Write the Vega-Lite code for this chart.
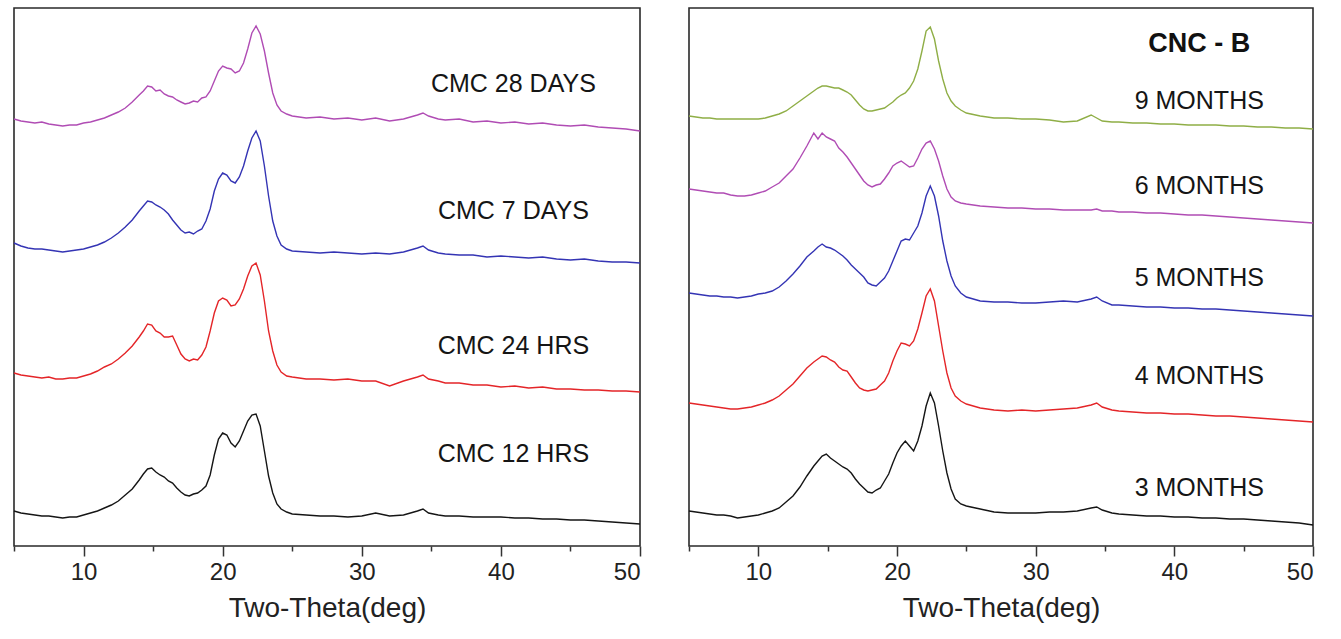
{
"$schema": "https://vega.github.io/schema/vega-lite/v6.json",
"background": "white",
"padding": {"left": 10, "top": 7, "right": 10, "bottom": 0},
"bounds": "flush",
"spacing": 49,
"resolve": {"scale": {"color": "independent"}},
"config": {
  "view": {"stroke": "#2a2a2a", "strokeWidth": 1.6},
  "font": "Liberation Sans",
  "axis": {"grid": false, "domain": false, "labelFont": "Liberation Sans", "labelFontSize": 24, "labelColor": "#222", "titleFont": "Liberation Sans", "titleFontSize": 28, "titleFontWeight": "normal", "titleColor": "#222", "tickColor": "#333", "tickWidth": 1.5, "labelPadding": 4, "titlePadding": 10}
},
"datasets": {
"left": [
{"s":"a","x":5,"y":432},{"s":"a","x":5.5,"y":430},{"s":"a","x":6,"y":429},{"s":"a","x":6.5,"y":428},{"s":"a","x":7,"y":429},{"s":"a","x":7.5,"y":427},{"s":"a","x":8,"y":426},{"s":"a","x":8.5,"y":425},{"s":"a","x":9,"y":426},{"s":"a","x":9.5,"y":426},{"s":"a","x":10,"y":428},{"s":"a","x":10.5,"y":429},{"s":"a","x":11,"y":431},{"s":"a","x":11.5,"y":433},{"s":"a","x":12,"y":436},{"s":"a","x":12.5,"y":439},{"s":"a","x":13,"y":443},{"s":"a","x":13.5,"y":449},{"s":"a","x":14,"y":456},
{"s":"a","x":14.3,"y":460},{"s":"a","x":14.6,"y":465},{"s":"a","x":14.9,"y":464},{"s":"a","x":15.2,"y":460},{"s":"a","x":15.5,"y":461},{"s":"a","x":15.8,"y":457},{"s":"a","x":16.1,"y":455},{"s":"a","x":16.4,"y":454},{"s":"a","x":16.7,"y":451},{"s":"a","x":17,"y":449},{"s":"a","x":17.3,"y":447},{"s":"a","x":17.6,"y":448},{"s":"a","x":17.9,"y":450},{"s":"a","x":18.2,"y":449},{"s":"a","x":18.5,"y":453},{"s":"a","x":18.8,"y":454},{"s":"a","x":19.1,"y":460},{"s":"a","x":19.4,"y":470},{"s":"a","x":19.7,"y":480},{"s":"a","x":20,"y":485},{"s":"a","x":20.3,"y":483},{"s":"a","x":20.6,"y":482},{"s":"a","x":20.9,"y":478},{"s":"a","x":21.2,"y":480},{"s":"a","x":21.5,"y":488},{"s":"a","x":21.8,"y":502},{"s":"a","x":22.1,"y":518},{"s":"a","x":22.4,"y":525},{"s":"a","x":22.7,"y":517},{"s":"a","x":23,"y":500},{"s":"a","x":23.3,"y":478},{"s":"a","x":23.6,"y":458},{"s":"a","x":23.9,"y":446},
{"s":"a","x":24.2,"y":440},{"s":"a","x":24.6,"y":437},{"s":"a","x":25,"y":435},{"s":"a","x":26,"y":433},{"s":"a","x":27,"y":434},{"s":"a","x":28,"y":432},{"s":"a","x":29,"y":433},{"s":"a","x":30,"y":431},{"s":"a","x":31,"y":433},{"s":"a","x":32,"y":430},{"s":"a","x":33,"y":432},{"s":"a","x":34,"y":436},{"s":"a","x":34.4,"y":438},{"s":"a","x":34.8,"y":435},{"s":"a","x":35.5,"y":432},{"s":"a","x":36,"y":431},{"s":"a","x":37,"y":432},{"s":"a","x":38,"y":429},{"s":"a","x":39,"y":430},{"s":"a","x":40,"y":428},{"s":"a","x":41,"y":429},{"s":"a","x":42,"y":427},{"s":"a","x":43,"y":428},{"s":"a","x":44,"y":426},{"s":"a","x":45,"y":425},{"s":"a","x":46,"y":426},{"s":"a","x":47,"y":424},{"s":"a","x":48,"y":423},{"s":"a","x":49,"y":422},{"s":"a","x":50,"y":420},

{"s":"b","x":5,"y":308},{"s":"b","x":5.5,"y":305},{"s":"b","x":6,"y":303},{"s":"b","x":6.5,"y":302},{"s":"b","x":7,"y":302},{"s":"b","x":7.5,"y":301},{"s":"b","x":8,"y":300},{"s":"b","x":8.5,"y":299},{"s":"b","x":9,"y":300},{"s":"b","x":9.5,"y":301},{"s":"b","x":10,"y":302},{"s":"b","x":10.5,"y":304},{"s":"b","x":11,"y":306},{"s":"b","x":11.5,"y":309},{"s":"b","x":12,"y":313},{"s":"b","x":12.5,"y":318},{"s":"b","x":13,"y":324},{"s":"b","x":13.5,"y":331},{"s":"b","x":14,"y":340},
{"s":"b","x":14.3,"y":345},{"s":"b","x":14.6,"y":350},{"s":"b","x":14.9,"y":349},{"s":"b","x":15.2,"y":346},{"s":"b","x":15.5,"y":344},{"s":"b","x":15.8,"y":341},{"s":"b","x":16.1,"y":337},{"s":"b","x":16.4,"y":331},{"s":"b","x":16.7,"y":326},{"s":"b","x":17,"y":321},{"s":"b","x":17.3,"y":318},{"s":"b","x":17.6,"y":319},{"s":"b","x":17.9,"y":317},{"s":"b","x":18.2,"y":320},{"s":"b","x":18.5,"y":322},{"s":"b","x":18.8,"y":330},{"s":"b","x":19.1,"y":342},{"s":"b","x":19.4,"y":360},{"s":"b","x":19.7,"y":372},{"s":"b","x":20,"y":378},{"s":"b","x":20.3,"y":376},{"s":"b","x":20.6,"y":370},{"s":"b","x":20.9,"y":368},{"s":"b","x":21.2,"y":374},{"s":"b","x":21.5,"y":385},{"s":"b","x":21.8,"y":400},{"s":"b","x":22.1,"y":413},{"s":"b","x":22.4,"y":420},{"s":"b","x":22.7,"y":410},{"s":"b","x":23,"y":385},{"s":"b","x":23.3,"y":355},{"s":"b","x":23.6,"y":330},{"s":"b","x":23.9,"y":315},
{"s":"b","x":24.2,"y":306},{"s":"b","x":24.6,"y":302},{"s":"b","x":25,"y":300},{"s":"b","x":26,"y":299},{"s":"b","x":27,"y":298},{"s":"b","x":28,"y":299},{"s":"b","x":29,"y":298},{"s":"b","x":30,"y":297},{"s":"b","x":31,"y":298},{"s":"b","x":32,"y":297},{"s":"b","x":33,"y":299},{"s":"b","x":34,"y":303},{"s":"b","x":34.4,"y":305},{"s":"b","x":34.8,"y":301},{"s":"b","x":35.5,"y":298},{"s":"b","x":36,"y":297},{"s":"b","x":37,"y":296},{"s":"b","x":38,"y":296},{"s":"b","x":39,"y":294},{"s":"b","x":40,"y":295},{"s":"b","x":41,"y":294},{"s":"b","x":42,"y":293},{"s":"b","x":43,"y":294},{"s":"b","x":44,"y":292},{"s":"b","x":45,"y":291},{"s":"b","x":46,"y":292},{"s":"b","x":47,"y":290},{"s":"b","x":48,"y":289},{"s":"b","x":49,"y":289},{"s":"b","x":50,"y":288},

{"s":"c","x":5,"y":178},{"s":"c","x":5.5,"y":176},{"s":"c","x":6,"y":175},{"s":"c","x":6.5,"y":174},{"s":"c","x":7,"y":173},{"s":"c","x":7.5,"y":174},{"s":"c","x":8,"y":172},{"s":"c","x":8.5,"y":172},{"s":"c","x":9,"y":173},{"s":"c","x":9.5,"y":173},{"s":"c","x":10,"y":175},{"s":"c","x":10.5,"y":177},{"s":"c","x":11,"y":180},{"s":"c","x":11.5,"y":184},{"s":"c","x":12,"y":187},{"s":"c","x":12.5,"y":192},{"s":"c","x":13,"y":198},{"s":"c","x":13.5,"y":205},{"s":"c","x":14,"y":214},
{"s":"c","x":14.3,"y":220},{"s":"c","x":14.6,"y":227},{"s":"c","x":14.9,"y":226},{"s":"c","x":15.2,"y":220},{"s":"c","x":15.5,"y":218},{"s":"c","x":15.8,"y":214},{"s":"c","x":16.1,"y":214},{"s":"c","x":16.4,"y":215},{"s":"c","x":16.7,"y":206},{"s":"c","x":17,"y":197},{"s":"c","x":17.3,"y":192},{"s":"c","x":17.6,"y":190},{"s":"c","x":17.9,"y":192},{"s":"c","x":18.2,"y":191},{"s":"c","x":18.5,"y":196},{"s":"c","x":18.8,"y":204},{"s":"c","x":19.1,"y":220},{"s":"c","x":19.4,"y":238},{"s":"c","x":19.7,"y":250},{"s":"c","x":20,"y":253},{"s":"c","x":20.3,"y":251},{"s":"c","x":20.6,"y":245},{"s":"c","x":20.9,"y":246},{"s":"c","x":21.2,"y":252},{"s":"c","x":21.5,"y":262},{"s":"c","x":21.8,"y":275},{"s":"c","x":22.1,"y":285},{"s":"c","x":22.4,"y":288},{"s":"c","x":22.7,"y":276},{"s":"c","x":23,"y":250},{"s":"c","x":23.3,"y":220},{"s":"c","x":23.6,"y":200},{"s":"c","x":23.9,"y":186},
{"s":"c","x":24.2,"y":179},{"s":"c","x":24.6,"y":175},{"s":"c","x":25,"y":174},{"s":"c","x":26,"y":172},{"s":"c","x":27,"y":172},{"s":"c","x":28,"y":171},{"s":"c","x":29,"y":172},{"s":"c","x":30,"y":170},{"s":"c","x":31,"y":170},{"s":"c","x":32,"y":165},{"s":"c","x":33,"y":170},{"s":"c","x":34,"y":174},{"s":"c","x":34.4,"y":176},{"s":"c","x":34.8,"y":172},{"s":"c","x":35.5,"y":170},{"s":"c","x":36,"y":168},{"s":"c","x":37,"y":168},{"s":"c","x":38,"y":166},{"s":"c","x":39,"y":166},{"s":"c","x":40,"y":164},{"s":"c","x":41,"y":165},{"s":"c","x":42,"y":163},{"s":"c","x":43,"y":164},{"s":"c","x":44,"y":162},{"s":"c","x":45,"y":162},{"s":"c","x":46,"y":161},{"s":"c","x":47,"y":161},{"s":"c","x":48,"y":160},{"s":"c","x":49,"y":160},{"s":"c","x":50,"y":159},

{"s":"d","x":5,"y":40},{"s":"d","x":5.5,"y":38},{"s":"d","x":6,"y":37},{"s":"d","x":6.5,"y":36},{"s":"d","x":7,"y":35},{"s":"d","x":7.5,"y":35},{"s":"d","x":8,"y":34},{"s":"d","x":8.5,"y":33},{"s":"d","x":9,"y":34},{"s":"d","x":9.5,"y":34},{"s":"d","x":10,"y":36},{"s":"d","x":10.5,"y":38},{"s":"d","x":11,"y":40},{"s":"d","x":11.5,"y":43},{"s":"d","x":12,"y":46},{"s":"d","x":12.5,"y":50},{"s":"d","x":13,"y":56},{"s":"d","x":13.5,"y":62},{"s":"d","x":14,"y":71},
{"s":"d","x":14.3,"y":77},{"s":"d","x":14.6,"y":82},{"s":"d","x":14.9,"y":83},{"s":"d","x":15.2,"y":79},{"s":"d","x":15.5,"y":76},{"s":"d","x":15.8,"y":74},{"s":"d","x":16.1,"y":70},{"s":"d","x":16.4,"y":68},{"s":"d","x":16.7,"y":63},{"s":"d","x":17,"y":59},{"s":"d","x":17.3,"y":56},{"s":"d","x":17.6,"y":55},{"s":"d","x":17.9,"y":57},{"s":"d","x":18.2,"y":58},{"s":"d","x":18.5,"y":61},{"s":"d","x":18.8,"y":65},{"s":"d","x":19.1,"y":76},{"s":"d","x":19.4,"y":96},{"s":"d","x":19.7,"y":112},{"s":"d","x":20,"y":118},{"s":"d","x":20.3,"y":116},{"s":"d","x":20.6,"y":108},{"s":"d","x":20.9,"y":104},{"s":"d","x":21.2,"y":110},{"s":"d","x":21.5,"y":120},{"s":"d","x":21.8,"y":130},{"s":"d","x":22.1,"y":136},{"s":"d","x":22.4,"y":137},{"s":"d","x":22.7,"y":125},{"s":"d","x":23,"y":100},{"s":"d","x":23.3,"y":75},{"s":"d","x":23.6,"y":58},{"s":"d","x":23.9,"y":47},
{"s":"d","x":24.2,"y":42},{"s":"d","x":24.6,"y":39},{"s":"d","x":25,"y":37},{"s":"d","x":26,"y":36},{"s":"d","x":27,"y":35},{"s":"d","x":28,"y":35},{"s":"d","x":29,"y":34},{"s":"d","x":30,"y":35},{"s":"d","x":31,"y":38},{"s":"d","x":32,"y":35},{"s":"d","x":33,"y":36},{"s":"d","x":34,"y":40},{"s":"d","x":34.4,"y":42},{"s":"d","x":34.8,"y":38},{"s":"d","x":35.5,"y":36},{"s":"d","x":36,"y":35},{"s":"d","x":37,"y":35},{"s":"d","x":38,"y":34},{"s":"d","x":39,"y":34},{"s":"d","x":40,"y":34},{"s":"d","x":41,"y":33},{"s":"d","x":42,"y":33},{"s":"d","x":43,"y":32},{"s":"d","x":44,"y":32},{"s":"d","x":45,"y":31},{"s":"d","x":46,"y":31},{"s":"d","x":47,"y":30},{"s":"d","x":48,"y":29},{"s":"d","x":49,"y":28},{"s":"d","x":50,"y":27}
],
"right": [
{"s":"e","x":5,"y":435},{"s":"e","x":5.5,"y":434},{"s":"e","x":6,"y":433},{"s":"e","x":6.5,"y":433},{"s":"e","x":7,"y":432},{"s":"e","x":7.5,"y":432},{"s":"e","x":8,"y":432},{"s":"e","x":8.5,"y":432},{"s":"e","x":9,"y":432},{"s":"e","x":9.5,"y":432},{"s":"e","x":10,"y":432},{"s":"e","x":10.5,"y":433},{"s":"e","x":11,"y":435},{"s":"e","x":11.5,"y":437},{"s":"e","x":12,"y":440},{"s":"e","x":12.5,"y":445},{"s":"e","x":13,"y":450},{"s":"e","x":13.5,"y":455},{"s":"e","x":14,"y":460},
{"s":"e","x":14.3,"y":463},{"s":"e","x":14.6,"y":465},{"s":"e","x":14.9,"y":465},{"s":"e","x":15.2,"y":464},{"s":"e","x":15.5,"y":463},{"s":"e","x":15.8,"y":463},{"s":"e","x":16.1,"y":461},{"s":"e","x":16.4,"y":459},{"s":"e","x":16.7,"y":456},{"s":"e","x":17,"y":451},{"s":"e","x":17.3,"y":446},{"s":"e","x":17.6,"y":442},{"s":"e","x":17.9,"y":440},{"s":"e","x":18.2,"y":440},{"s":"e","x":18.5,"y":441},{"s":"e","x":18.8,"y":442},{"s":"e","x":19.1,"y":443},{"s":"e","x":19.4,"y":446},{"s":"e","x":19.7,"y":449},{"s":"e","x":20,"y":453},{"s":"e","x":20.3,"y":456},{"s":"e","x":20.6,"y":458},{"s":"e","x":20.9,"y":463},{"s":"e","x":21.2,"y":470},{"s":"e","x":21.5,"y":482},{"s":"e","x":21.8,"y":500},{"s":"e","x":22.1,"y":520},{"s":"e","x":22.4,"y":524},{"s":"e","x":22.7,"y":512},{"s":"e","x":23,"y":490},{"s":"e","x":23.3,"y":472},{"s":"e","x":23.6,"y":458},{"s":"e","x":23.9,"y":450},
{"s":"e","x":24.2,"y":445},{"s":"e","x":24.6,"y":441},{"s":"e","x":25,"y":438},{"s":"e","x":26,"y":435},{"s":"e","x":27,"y":433},{"s":"e","x":28,"y":433},{"s":"e","x":29,"y":432},{"s":"e","x":30,"y":432},{"s":"e","x":31,"y":431},{"s":"e","x":32,"y":429},{"s":"e","x":33,"y":430},{"s":"e","x":34,"y":436},{"s":"e","x":34.4,"y":433},{"s":"e","x":34.8,"y":430},{"s":"e","x":35.5,"y":429},{"s":"e","x":36,"y":429},{"s":"e","x":37,"y":428},{"s":"e","x":38,"y":428},{"s":"e","x":39,"y":427},{"s":"e","x":40,"y":427},{"s":"e","x":41,"y":426},{"s":"e","x":42,"y":426},{"s":"e","x":43,"y":426},{"s":"e","x":44,"y":425},{"s":"e","x":45,"y":425},{"s":"e","x":46,"y":424},{"s":"e","x":47,"y":424},{"s":"e","x":48,"y":423},{"s":"e","x":49,"y":423},{"s":"e","x":50,"y":422},

{"s":"f","x":5,"y":362},{"s":"f","x":5.5,"y":361},{"s":"f","x":6,"y":360},{"s":"f","x":6.5,"y":359},{"s":"f","x":7,"y":358},{"s":"f","x":7.5,"y":358},{"s":"f","x":8,"y":356},{"s":"f","x":8.5,"y":355},{"s":"f","x":9,"y":355},{"s":"f","x":9.5,"y":356},{"s":"f","x":10,"y":358},{"s":"f","x":10.5,"y":360},{"s":"f","x":11,"y":364},{"s":"f","x":11.5,"y":368},{"s":"f","x":12,"y":375},{"s":"f","x":12.5,"y":382},{"s":"f","x":13,"y":393},{"s":"f","x":13.5,"y":405},{"s":"f","x":14,"y":418},
{"s":"f","x":14.3,"y":412},{"s":"f","x":14.6,"y":418},{"s":"f","x":14.9,"y":414},{"s":"f","x":15.2,"y":412},{"s":"f","x":15.5,"y":410},{"s":"f","x":15.8,"y":403},{"s":"f","x":16.1,"y":399},{"s":"f","x":16.4,"y":394},{"s":"f","x":16.7,"y":388},{"s":"f","x":17,"y":382},{"s":"f","x":17.3,"y":376},{"s":"f","x":17.6,"y":370},{"s":"f","x":17.9,"y":366},{"s":"f","x":18.2,"y":364},{"s":"f","x":18.5,"y":366},{"s":"f","x":18.8,"y":367},{"s":"f","x":19.1,"y":372},{"s":"f","x":19.4,"y":378},{"s":"f","x":19.7,"y":385},{"s":"f","x":20,"y":388},{"s":"f","x":20.3,"y":390},{"s":"f","x":20.6,"y":387},{"s":"f","x":20.9,"y":384},{"s":"f","x":21.2,"y":385},{"s":"f","x":21.5,"y":393},{"s":"f","x":21.8,"y":402},{"s":"f","x":22.1,"y":408},{"s":"f","x":22.4,"y":410},{"s":"f","x":22.7,"y":402},{"s":"f","x":23,"y":390},{"s":"f","x":23.3,"y":375},{"s":"f","x":23.6,"y":362},{"s":"f","x":23.9,"y":354},
{"s":"f","x":24.2,"y":350},{"s":"f","x":24.6,"y":348},{"s":"f","x":25,"y":347},{"s":"f","x":26,"y":345},{"s":"f","x":27,"y":344},{"s":"f","x":28,"y":343},{"s":"f","x":29,"y":343},{"s":"f","x":30,"y":342},{"s":"f","x":31,"y":342},{"s":"f","x":32,"y":341},{"s":"f","x":33,"y":341},{"s":"f","x":34,"y":341},{"s":"f","x":34.4,"y":342},{"s":"f","x":34.8,"y":340},{"s":"f","x":35.5,"y":340},{"s":"f","x":36,"y":339},{"s":"f","x":37,"y":339},{"s":"f","x":38,"y":338},{"s":"f","x":39,"y":338},{"s":"f","x":40,"y":337},{"s":"f","x":41,"y":336},{"s":"f","x":42,"y":336},{"s":"f","x":43,"y":335},{"s":"f","x":44,"y":334},{"s":"f","x":45,"y":333},{"s":"f","x":46,"y":332},{"s":"f","x":47,"y":331},{"s":"f","x":48,"y":330},{"s":"f","x":49,"y":329},{"s":"f","x":50,"y":328},

{"s":"g","x":5,"y":258},{"s":"g","x":5.5,"y":257},{"s":"g","x":6,"y":256},{"s":"g","x":6.5,"y":255},{"s":"g","x":7,"y":255},{"s":"g","x":7.5,"y":254},{"s":"g","x":8,"y":254},{"s":"g","x":8.5,"y":253},{"s":"g","x":9,"y":254},{"s":"g","x":9.5,"y":255},{"s":"g","x":10,"y":257},{"s":"g","x":10.5,"y":258},{"s":"g","x":11,"y":260},{"s":"g","x":11.5,"y":264},{"s":"g","x":12,"y":270},{"s":"g","x":12.5,"y":277},{"s":"g","x":13,"y":285},{"s":"g","x":13.5,"y":294},{"s":"g","x":14,"y":300},
{"s":"g","x":14.3,"y":304},{"s":"g","x":14.6,"y":307},{"s":"g","x":14.9,"y":304},{"s":"g","x":15.2,"y":303},{"s":"g","x":15.5,"y":301},{"s":"g","x":15.8,"y":298},{"s":"g","x":16.1,"y":295},{"s":"g","x":16.4,"y":291},{"s":"g","x":16.7,"y":286},{"s":"g","x":17,"y":282},{"s":"g","x":17.3,"y":278},{"s":"g","x":17.6,"y":274},{"s":"g","x":17.9,"y":268},{"s":"g","x":18.2,"y":266},{"s":"g","x":18.5,"y":265},{"s":"g","x":18.8,"y":269},{"s":"g","x":19.1,"y":273},{"s":"g","x":19.4,"y":280},{"s":"g","x":19.7,"y":290},{"s":"g","x":20,"y":300},{"s":"g","x":20.3,"y":310},{"s":"g","x":20.6,"y":312},{"s":"g","x":20.9,"y":311},{"s":"g","x":21.2,"y":318},{"s":"g","x":21.5,"y":325},{"s":"g","x":21.8,"y":338},{"s":"g","x":22.1,"y":355},{"s":"g","x":22.4,"y":365},{"s":"g","x":22.7,"y":355},{"s":"g","x":23,"y":335},{"s":"g","x":23.3,"y":310},{"s":"g","x":23.6,"y":290},{"s":"g","x":23.9,"y":275},
{"s":"g","x":24.2,"y":265},{"s":"g","x":24.6,"y":258},{"s":"g","x":25,"y":254},{"s":"g","x":26,"y":250},{"s":"g","x":27,"y":249},{"s":"g","x":28,"y":249},{"s":"g","x":29,"y":248},{"s":"g","x":30,"y":248},{"s":"g","x":31,"y":249},{"s":"g","x":32,"y":250},{"s":"g","x":33,"y":249},{"s":"g","x":34,"y":252},{"s":"g","x":34.4,"y":254},{"s":"g","x":34.8,"y":250},{"s":"g","x":35.5,"y":246},{"s":"g","x":36,"y":246},{"s":"g","x":37,"y":245},{"s":"g","x":38,"y":244},{"s":"g","x":39,"y":244},{"s":"g","x":40,"y":243},{"s":"g","x":41,"y":243},{"s":"g","x":42,"y":242},{"s":"g","x":43,"y":242},{"s":"g","x":44,"y":241},{"s":"g","x":45,"y":240},{"s":"g","x":46,"y":239},{"s":"g","x":47,"y":238},{"s":"g","x":48,"y":237},{"s":"g","x":49,"y":236},{"s":"g","x":50,"y":235},

{"s":"h","x":5,"y":148},{"s":"h","x":5.5,"y":147},{"s":"h","x":6,"y":146},{"s":"h","x":6.5,"y":145},{"s":"h","x":7,"y":144},{"s":"h","x":7.5,"y":143},{"s":"h","x":8,"y":142},{"s":"h","x":8.5,"y":142},{"s":"h","x":9,"y":143},{"s":"h","x":9.5,"y":144},{"s":"h","x":10,"y":146},{"s":"h","x":10.5,"y":148},{"s":"h","x":11,"y":151},{"s":"h","x":11.5,"y":155},{"s":"h","x":12,"y":161},{"s":"h","x":12.5,"y":167},{"s":"h","x":13,"y":175},{"s":"h","x":13.5,"y":183},{"s":"h","x":14,"y":189},
{"s":"h","x":14.3,"y":192},{"s":"h","x":14.6,"y":195},{"s":"h","x":14.9,"y":194},{"s":"h","x":15.2,"y":191},{"s":"h","x":15.5,"y":189},{"s":"h","x":15.8,"y":184},{"s":"h","x":16.1,"y":181},{"s":"h","x":16.4,"y":180},{"s":"h","x":16.7,"y":174},{"s":"h","x":17,"y":168},{"s":"h","x":17.3,"y":163},{"s":"h","x":17.6,"y":161},{"s":"h","x":17.9,"y":160},{"s":"h","x":18.2,"y":161},{"s":"h","x":18.5,"y":162},{"s":"h","x":18.8,"y":166},{"s":"h","x":19.1,"y":170},{"s":"h","x":19.4,"y":178},{"s":"h","x":19.7,"y":190},{"s":"h","x":20,"y":200},{"s":"h","x":20.3,"y":208},{"s":"h","x":20.6,"y":207},{"s":"h","x":20.9,"y":205},{"s":"h","x":21.2,"y":210},{"s":"h","x":21.5,"y":222},{"s":"h","x":21.8,"y":238},{"s":"h","x":22.1,"y":255},{"s":"h","x":22.4,"y":262},{"s":"h","x":22.7,"y":250},{"s":"h","x":23,"y":225},{"s":"h","x":23.3,"y":200},{"s":"h","x":23.6,"y":178},{"s":"h","x":23.9,"y":163},
{"s":"h","x":24.2,"y":155},{"s":"h","x":24.6,"y":150},{"s":"h","x":25,"y":147},{"s":"h","x":26,"y":143},{"s":"h","x":27,"y":141},{"s":"h","x":28,"y":140},{"s":"h","x":29,"y":141},{"s":"h","x":30,"y":140},{"s":"h","x":31,"y":141},{"s":"h","x":32,"y":142},{"s":"h","x":33,"y":143},{"s":"h","x":34,"y":146},{"s":"h","x":34.4,"y":148},{"s":"h","x":34.8,"y":144},{"s":"h","x":35.5,"y":141},{"s":"h","x":36,"y":140},{"s":"h","x":37,"y":139},{"s":"h","x":38,"y":138},{"s":"h","x":39,"y":138},{"s":"h","x":40,"y":137},{"s":"h","x":41,"y":137},{"s":"h","x":42,"y":136},{"s":"h","x":43,"y":135},{"s":"h","x":44,"y":135},{"s":"h","x":45,"y":134},{"s":"h","x":46,"y":133},{"s":"h","x":47,"y":132},{"s":"h","x":48,"y":131},{"s":"h","x":49,"y":130},{"s":"h","x":50,"y":129},

{"s":"i","x":5,"y":40},{"s":"i","x":5.5,"y":39},{"s":"i","x":6,"y":38},{"s":"i","x":6.5,"y":37},{"s":"i","x":7,"y":36},{"s":"i","x":7.5,"y":36},{"s":"i","x":8,"y":35},{"s":"i","x":8.5,"y":33},{"s":"i","x":9,"y":34},{"s":"i","x":9.5,"y":35},{"s":"i","x":10,"y":36},{"s":"i","x":10.5,"y":38},{"s":"i","x":11,"y":40},{"s":"i","x":11.5,"y":43},{"s":"i","x":12,"y":49},{"s":"i","x":12.5,"y":55},{"s":"i","x":13,"y":64},{"s":"i","x":13.5,"y":75},{"s":"i","x":14,"y":85},
{"s":"i","x":14.3,"y":90},{"s":"i","x":14.6,"y":95},{"s":"i","x":14.9,"y":97},{"s":"i","x":15.2,"y":93},{"s":"i","x":15.5,"y":90},{"s":"i","x":15.8,"y":87},{"s":"i","x":16.1,"y":84},{"s":"i","x":16.4,"y":82},{"s":"i","x":16.7,"y":78},{"s":"i","x":17,"y":72},{"s":"i","x":17.3,"y":67},{"s":"i","x":17.6,"y":63},{"s":"i","x":17.9,"y":59},{"s":"i","x":18.2,"y":58},{"s":"i","x":18.5,"y":61},{"s":"i","x":18.8,"y":63},{"s":"i","x":19.1,"y":70},{"s":"i","x":19.4,"y":77},{"s":"i","x":19.7,"y":88},{"s":"i","x":20,"y":98},{"s":"i","x":20.3,"y":105},{"s":"i","x":20.6,"y":110},{"s":"i","x":20.9,"y":105},{"s":"i","x":21.2,"y":100},{"s":"i","x":21.5,"y":110},{"s":"i","x":21.8,"y":125},{"s":"i","x":22.1,"y":145},{"s":"i","x":22.4,"y":158},{"s":"i","x":22.7,"y":148},{"s":"i","x":23,"y":125},{"s":"i","x":23.3,"y":100},{"s":"i","x":23.6,"y":78},{"s":"i","x":23.9,"y":62},
{"s":"i","x":24.2,"y":52},{"s":"i","x":24.6,"y":47},{"s":"i","x":25,"y":45},{"s":"i","x":26,"y":42},{"s":"i","x":27,"y":39},{"s":"i","x":28,"y":38},{"s":"i","x":29,"y":38},{"s":"i","x":30,"y":38},{"s":"i","x":31,"y":39},{"s":"i","x":32,"y":39},{"s":"i","x":33,"y":40},{"s":"i","x":34,"y":43},{"s":"i","x":34.4,"y":44},{"s":"i","x":34.8,"y":41},{"s":"i","x":35.5,"y":38},{"s":"i","x":36,"y":37},{"s":"i","x":37,"y":36},{"s":"i","x":38,"y":35},{"s":"i","x":39,"y":35},{"s":"i","x":40,"y":34},{"s":"i","x":41,"y":34},{"s":"i","x":42,"y":33},{"s":"i","x":43,"y":33},{"s":"i","x":44,"y":32},{"s":"i","x":45,"y":32},{"s":"i","x":46,"y":31},{"s":"i","x":47,"y":30},{"s":"i","x":48,"y":29},{"s":"i","x":49,"y":28},{"s":"i","x":50,"y":26}
],
"leftLabels": [
{"t":"CMC 28 DAYS","x":40.9,"y":467},
{"t":"CMC 7 DAYS","x":40.9,"y":340},
{"t":"CMC 24 HRS","x":40.9,"y":205},
{"t":"CMC 12 HRS","x":40.9,"y":97}
],
"rightLabels": [
{"t":"9 MONTHS","x":41.8,"y":450},
{"t":"6 MONTHS","x":41.8,"y":365},
{"t":"5 MONTHS","x":41.8,"y":273},
{"t":"4 MONTHS","x":41.8,"y":175},
{"t":"3 MONTHS","x":41.8,"y":63}
],
"rightTitle": [
{"t":"CNC - B","x":41.8,"y":507}
]
},
"hconcat": [
{
 "width": 626, "height": 538,
 "resolve": {"scale": {"x": "independent"}, "axis": {"x": "independent"}},
 "layer": [
  {
   "data": {"name": "left"},
   "mark": {"type": "line", "strokeWidth": 1.4},
   "encoding": {
    "x": {"field": "x", "type": "quantitative", "scale": {"domain": [5, 50], "nice": false, "zero": false},
          "axis": {"orient": "bottom", "values": [10, 20, 30, 40, 50], "tickSize": 10, "title": "Two-Theta(deg)"}},
    "y": {"field": "y", "type": "quantitative", "scale": {"domain": [5, 543], "nice": false, "zero": false}, "axis": null},
    "color": {"field": "s", "type": "nominal", "scale": {"domain": ["a", "b", "c", "d"], "range": ["#b04cb4", "#3434b4", "#e42528", "#151515"]}, "legend": null}
   }
  },
  {
   "data": {"name": "leftLabels"},
   "mark": {"type": "text", "fontSize": 25, "font": "Liberation Sans", "color": "#151515", "align": "center", "baseline": "middle"},
   "encoding": {
    "x": {"field": "x", "type": "quantitative", "scale": {"domain": [5, 50], "nice": false, "zero": false},
          "axis": {"orient": "bottom", "values": [5, 15, 25, 35, 45], "tickSize": 5, "labels": false, "title": null}},
    "y": {"field": "y", "type": "quantitative"},
    "text": {"field": "t"}
   }
  }
 ]
},
{
 "width": 624, "height": 538,
 "resolve": {"scale": {"x": "independent"}, "axis": {"x": "independent"}},
 "layer": [
  {
   "data": {"name": "right"},
   "mark": {"type": "line", "strokeWidth": 1.4},
   "encoding": {
    "x": {"field": "x", "type": "quantitative", "scale": {"domain": [5, 50], "nice": false, "zero": false},
          "axis": {"orient": "bottom", "values": [10, 20, 30, 40, 50], "tickSize": 10, "title": "Two-Theta(deg)"}},
    "y": {"field": "y", "type": "quantitative", "scale": {"domain": [5, 543], "nice": false, "zero": false}, "axis": null},
    "color": {"field": "s", "type": "nominal", "scale": {"domain": ["e", "f", "g", "h", "i"], "range": ["#8fae46", "#b04cb4", "#3434b4", "#e42528", "#151515"]}, "legend": null}
   }
  },
  {
   "data": {"name": "rightLabels"},
   "mark": {"type": "text", "fontSize": 25, "font": "Liberation Sans", "color": "#151515", "align": "center", "baseline": "middle"},
   "encoding": {
    "x": {"field": "x", "type": "quantitative", "scale": {"domain": [5, 50], "nice": false, "zero": false},
          "axis": {"orient": "bottom", "values": [5, 15, 25, 35, 45], "tickSize": 5, "labels": false, "title": null}},
    "y": {"field": "y", "type": "quantitative"},
    "text": {"field": "t"}
   }
  },
  {
   "data": {"name": "rightTitle"},
   "mark": {"type": "text", "fontSize": 27, "fontWeight": "bold", "font": "Liberation Sans", "color": "#111", "align": "center", "baseline": "middle"},
   "encoding": {
    "x": {"field": "x", "type": "quantitative", "scale": {"domain": [5, 50], "nice": false, "zero": false}, "axis": null},
    "y": {"field": "y", "type": "quantitative"},
    "text": {"field": "t"}
   }
  }
 ]
}
]
}
